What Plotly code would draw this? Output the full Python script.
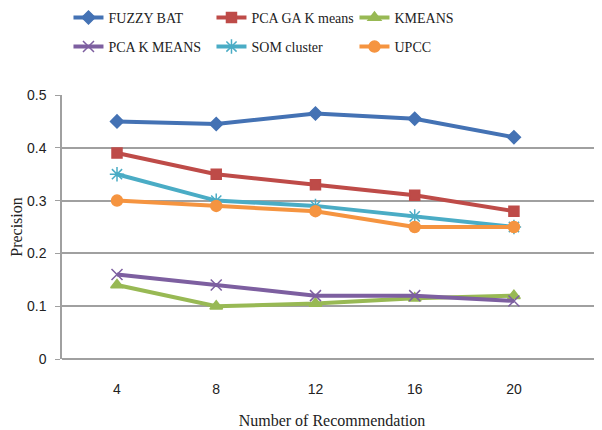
import plotly.graph_objects as go

x_vals = [4, 8, 12, 16, 20]
fuzzy_bat = [0.45, 0.445, 0.465, 0.455, 0.42]
pca_ga_kmeans = [0.39, 0.35, 0.33, 0.31, 0.28]
kmeans = [0.14, 0.10, 0.105, 0.115, 0.12]
pca_kmeans = [0.16, 0.14, 0.12, 0.12, 0.11]
som_cluster = [0.35, 0.30, 0.29, 0.27, 0.25]
upcc = [0.30, 0.29, 0.28, 0.25, 0.25]
y_ticks = [0, 0.1, 0.2, 0.3, 0.4, 0.5]
y_tick_text = ["0", "0.1", "0.2", "0.3", "0.4", "0.5"]

series = [
    ("FUZZY BAT", fuzzy_bat, "#4472B4", "diamond", 10, "legend"),
    ("PCA GA K means", pca_ga_kmeans, "#BE4B48", "square", 10, "legend"),
    ("KMEANS", kmeans, "#98B954", "triangle-up", 11, "legend"),
    ("PCA K MEANS", pca_kmeans, "#7D5FA0", "x-thin-open", 11, "legend2"),
    ("SOM cluster", som_cluster, "#4AACC5", "asterisk-open", 12, "legend2"),
    ("UPCC", upcc, "#F59440", "circle", 11, "legend2"),
]

fig = go.Figure()
for name, vals, color, sym, size, leg in series:
    fig.add_trace(go.Scatter(
        x=x_vals, y=vals, name=name, mode="lines+markers",
        line=dict(color=color, width=4),
        marker=dict(symbol=sym, size=size, color=color,
                    line=dict(color=color, width=1.5)),
        legend=leg,
    ))

legend_common = dict(
    orientation="h", xanchor="left", yanchor="middle",
    font=dict(family="Liberation Serif", size=14, color="#222"),
    bgcolor="rgba(0,0,0,0)", entrywidth=98, entrywidthmode="pixels",
    tracegroupgap=0,
)

# page body has an 8px margin, so the figure is 8px smaller and margins offset
fig.update_layout(
    width=594, height=422,
    margin=dict(l=54, r=0, t=87, b=71, autoexpand=False),
    paper_bgcolor="white", plot_bgcolor="white",
    showlegend=True,
    legend=dict(x=0.012, y=1.292, **legend_common),
    legend2=dict(x=0.012, y=1.182, **legend_common),
    xaxis=dict(
        range=[1.783, 23.55], tickvals=x_vals,
        ticktext=[str(v) for v in x_vals],
        showgrid=False, zeroline=False, showline=False,
        automargin=False,
        tickfont=dict(family="Liberation Sans", size=14, color="#222"),
        ticklabelstandoff=20,
        title=dict(text="Number of Recommendation",
                   font=dict(family="Liberation Serif", size=16, color="#222"),
                   standoff=18),
        ticks="",
    ),
    yaxis=dict(
        range=[0, 0.5], tickvals=y_ticks, ticktext=y_tick_text,
        showgrid=True, gridcolor="#A0A0A0", gridwidth=1.5,
        zeroline=True, zerolinecolor="#A0A0A0", zerolinewidth=1.5,
        showline=True, linecolor="#A0A0A0", linewidth=1.5,
        automargin=False,
        ticks="outside", ticklen=5, tickcolor="#A0A0A0",
        ticklabelstandoff=6,
        tickfont=dict(family="Liberation Sans", size=14, color="#222"),
        title=dict(text="Precision",
                   font=dict(family="Liberation Serif", size=16, color="#222"),
                   standoff=0),
    ),
)

fig.write_html("out.html")
